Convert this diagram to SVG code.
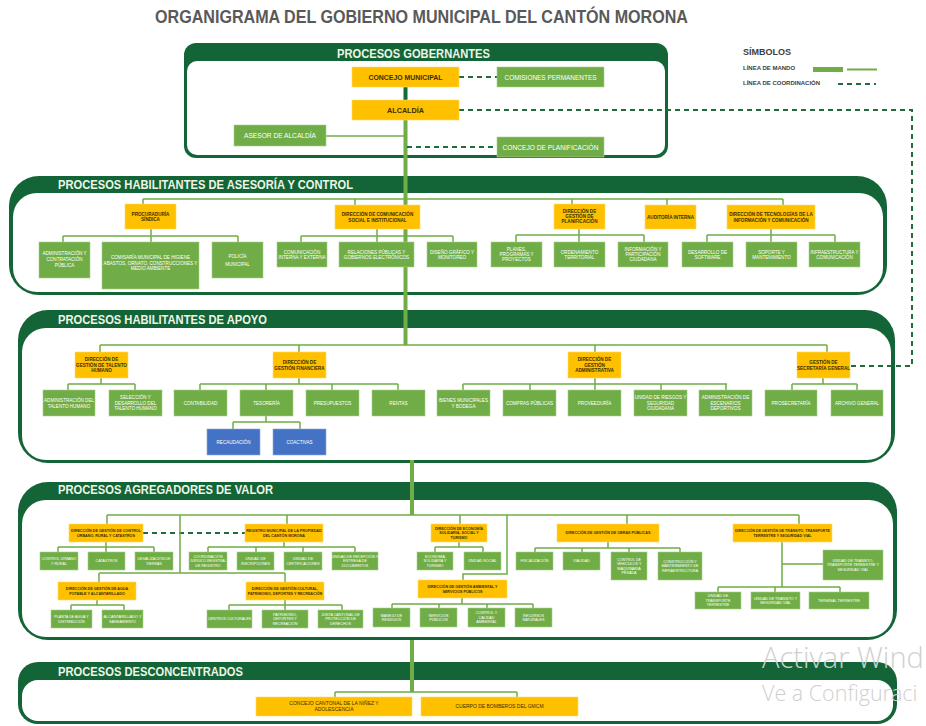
<svg xmlns="http://www.w3.org/2000/svg" width="926" height="726" viewBox="0 0 926 726">
<style>
text{font-family:"Liberation Sans",Arial,sans-serif}
.fo{fill:#136538}
.fi{fill:#fff}
.o{fill:#ffc000;stroke:#ffd966;stroke-width:.6}
.g{fill:#70ad47;stroke:#a9d18e;stroke-width:.6}
.b{fill:#4472c4;stroke:#8faadc;stroke-width:.6}
.to{font-size:4.6px;font-weight:bold;fill:#3b2f00;text-anchor:middle}
.tg{font-size:4.6px;fill:#fff;text-anchor:middle}
.s{font-size:3.7px}
.gv{font-size:7px}
.h{font-size:13px;font-weight:bold;fill:#eef5e6}
.ln{stroke:#70ad47;stroke-width:1.5;fill:none}
.tr{stroke:#70ad47;stroke-width:4;fill:none}
.ds{stroke:#1e6b3c;stroke-width:2;stroke-dasharray:5 4;fill:none}
.wm{fill:#d0d0d0;font-family:"Open Sans","Liberation Sans",sans-serif;font-weight:300}
</style>
<rect width="926" height="726" fill="#fff"/>
<text x="155" y="23" font-size="18" font-weight="bold" fill="#595959" textLength="533" lengthAdjust="spacingAndGlyphs">ORGANIGRAMA DEL GOBIERNO MUNICIPAL DEL CANTÓN MORONA</text>

<g id="frames">
<rect class="fo" x="184" y="43" width="484" height="115" rx="12"/>
<rect class="fi" x="187" y="61" width="478" height="94" rx="10"/>
<text class="h" x="337" y="58" font-size="12" textLength="153" lengthAdjust="spacingAndGlyphs">PROCESOS GOBERNANTES</text>

<rect class="fo" x="9" y="176" width="878" height="119" rx="30"/>
<rect class="fi" x="13" y="193" width="870" height="99" rx="24"/>
<text class="h" x="58" y="188.5" textLength="295" lengthAdjust="spacingAndGlyphs">PROCESOS HABILITANTES DE ASESORÍA Y CONTROL</text>

<rect class="fo" x="18" y="310" width="877" height="153" rx="30"/>
<rect class="fi" x="22" y="328" width="869" height="132" rx="24"/>
<text class="h" x="58" y="324" textLength="209" lengthAdjust="spacingAndGlyphs">PROCESOS HABILITANTES DE APOYO</text>

<rect class="fo" x="18" y="482" width="879" height="158" rx="30"/>
<rect class="fi" x="22" y="500" width="871" height="137" rx="24"/>
<text class="h" x="58" y="494" textLength="215" lengthAdjust="spacingAndGlyphs">PROCESOS AGREGADORES DE VALOR</text>

<rect class="fo" x="18" y="662" width="879" height="62" rx="20"/>
<rect class="fi" x="22" y="680" width="871" height="41" rx="16"/>
<text class="h" x="58" y="676" font-size="11" textLength="185" lengthAdjust="spacingAndGlyphs">PROCESOS DESCONCENTRADOS</text>
</g>

<g id="legend">
<text x="743" y="55" font-size="9" font-weight="bold" fill="#404040">SÍMBOLOS</text>
<text x="743" y="70" font-size="6" font-weight="bold" fill="#404040">LÍNEA DE MANDO</text>
<rect x="813" y="67" width="30" height="5" fill="#70ad47"/>
<line x1="847" y1="69.5" x2="877" y2="69.5" stroke="#70ad47" stroke-width="2"/>
<text x="743" y="85" font-size="6" font-weight="bold" fill="#404040">LÍNEA DE COORDINACIÓN</text>
<line x1="838" y1="84" x2="876" y2="84" class="ds" stroke-dasharray="4 5"/>
</g>

<g id="connectors">
<line x1="405.5" y1="87" x2="405.5" y2="100" stroke="#156b35" stroke-width="4"/>
<path class="tr" d="M405.5 120V345M412 460V515M412 640V692"/>
<path class="ln" d="M326 136H405"/>
<path class="ds" d="M459 77H497M459 110H912V366H850M407 147H497M143 533H245"/>
<path class="ln" d="M143 199H783M143 199V204M355 199V205M572 199V204M667 199V205M783 199V205"/>
<path class="ln" d="M151 229V236M63 236H238M63 236V242M151 236V242M238 236V242"/>
<path class="ln" d="M377 229V236M301 236H453M301 236V242M377 236V242M453 236V242"/>
<path class="ln" d="M579 229V235M516 235H644M516 235V242M579 235V242M644 235V242"/>
<path class="ln" d="M771 229V235M707 235H835M707 235V242M771 235V242M835 235V242"/>
<path class="ln" d="M100 345H827M100 345V352M299 345V352M595 345V352M827 345V352"/>
<path class="ln" d="M101 378V384M68 384H135M68 384V390M135 384V390"/>
<path class="ln" d="M299 378V384M200 384H398M200 384V390M266 384V390M332 384V390M398 384V390"/>
<path class="ln" d="M266 416V422M233 422H300M233 422V429M300 422V429" stroke="#4472c4"/>
<path class="ln" d="M595 378V384M463 384H727M463 384V390M530 384V390M595 384V390M661 384V390M726 384V390"/>
<path class="ln" d="M823 378V384M792 384H857M792 384V390M857 384V390"/>
<path class="ln" stroke-width="2" d="M107 515H799M107 515V524M287 515V524M460 515V524M627 515V524M799 515V524"/>
<path class="ln" d="M180 515V573M99 573H285M99 573V582M285 573V582M507 515V574H463V580"/>
<path class="ln" d="M106 542V547M58 547H154M58 547V552M106 547V552M154 547V552"/>
<path class="ln" d="M284 542V547M208 547H355M208 547V552M256 547V552M303 547V552M355 547V552"/>
<path class="ln" d="M459 542V547M435 547H483M435 547V552M483 547V552"/>
<path class="ln" d="M608 542V548M535 548H680M535 548V552M582 548V552M629 548V552M680 548V552"/>
<path class="ln" stroke-width="2" d="M782 542V587M782 564H823M718 587H840M718 587V592M775 587V592M840 587V592"/>
<path class="ln" d="M97 600V605M71 605H124M71 605V610M124 605V610"/>
<path class="ln" d="M285 600V605M229 605H342M229 605V610M285 605V610M342 605V610"/>
<path class="ln" d="M462 598V604M392 604H533M392 604V608M439 604V608M487 604V608M533 604V608"/>
<path class="ln" stroke-width="2" d="M335 692H517M335 692V697M517 692V697"/>
</g>

<!-- Gobernantes -->
<g id="concejo-municipal"><rect class="o" x="352" y="67" width="107" height="20"/><text class="to gv" x="405.5" y="79.5" textLength="74" lengthAdjust="spacingAndGlyphs">CONCEJO MUNICIPAL</text></g>
<g id="comisiones-permanentes"><rect class="g" x="497" y="67" width="107" height="20"/><text class="tg gv" x="550.5" y="79.5" textLength="92" lengthAdjust="spacingAndGlyphs">COMISIONES PERMANENTES</text></g>
<g id="alcaldia"><rect class="o" x="352" y="100" width="107" height="20"/><text class="to gv" x="405.5" y="112.5" textLength="37" lengthAdjust="spacingAndGlyphs">ALCALDÍA</text></g>
<g id="asesor-alcaldia"><rect class="g" x="234" y="125" width="92" height="21"/><text class="tg gv" x="280" y="138" textLength="72" lengthAdjust="spacingAndGlyphs">ASESOR DE ALCALDÍA</text></g>
<g id="concejo-planificacion"><rect class="g" x="497" y="137" width="107" height="20"/><text class="tg gv" x="550.5" y="149.5" textLength="96" lengthAdjust="spacingAndGlyphs">CONCEJO DE PLANIFICACIÓN</text></g>

<!-- Asesoría y control -->
<g id="procuraduria"><rect class="o" x="125" y="204" width="51" height="25"/><text class="to" x="150.5" y="215.5">PROCURADURÍA</text><text class="to" x="150.5" y="221">SÍNDICA</text></g>
<g id="dir-comunicacion"><rect class="o" x="335" y="205" width="85" height="24"/><text class="to" x="377.5" y="216">DIRECCIÓN DE COMUNICACIÓN</text><text class="to" x="377.5" y="221.5">SOCIAL E INSTITUCIONAL</text></g>
<g id="dir-planificacion"><rect class="o" x="554" y="204" width="51" height="25"/><text class="to" x="579.5" y="212.8">DIRECCIÓN DE</text><text class="to" x="579.5" y="218.1">GESTIÓN DE</text><text class="to" x="579.5" y="223.4">PLANIFICACIÓN</text></g>
<g id="auditoria"><rect class="o" x="645" y="205" width="51" height="24"/><text class="to" x="670.5" y="218.6">AUDITORÍA INTERNA</text></g>
<g id="dir-tecnologias"><rect class="o" x="727" y="205" width="88" height="24"/><text class="to" x="771" y="216">DIRECCIÓN DE TECNOLOGÍAS DE LA</text><text class="to" x="771" y="221.5">INFORMACIÓN Y COMUNICACIÓN</text></g>

<g id="adm-contratacion"><rect class="g" x="39" y="242" width="51" height="36"/><text class="tg" x="64.5" y="255"><tspan x="64.5">ADMINISTRACIÓN Y</tspan><tspan x="64.5" dy="6">CONTRATACIÓN</tspan><tspan x="64.5" dy="6">PÚBLICA</tspan></text></g>
<g id="comisaria"><rect class="g" x="102" y="242" width="97" height="47"/><text class="tg" x="150.5" y="259"><tspan x="150.5">COMISARÍA MUNICIPAL DE HIGIENE</tspan><tspan x="150.5" dy="5.7">ABASTOS, ORNATO, CONSTRUCCIONES Y</tspan><tspan x="150.5" dy="5.7">MEDIO AMBIENTE</tspan></text></g>
<g id="policia"><rect class="g" x="212" y="242" width="51" height="36"/><text class="tg" x="237.5" y="257.5">POLICÍA</text><text class="tg" x="237.5" y="265.5">MUNICIPAL</text></g>
<g id="com-interna"><rect class="g" x="277" y="242" width="50" height="25"/><text class="tg" x="302" y="253.5">COMUNICACIÓN</text><text class="tg" x="302" y="259">INTERNA Y EXTERNA</text></g>
<g id="relaciones"><rect class="g" x="339" y="242" width="75" height="25"/><text class="tg" x="376.5" y="253.5">RELACIONES PÚBLICAS Y</text><text class="tg" x="376.5" y="259">GOBIERNOS ELECTRÓNICOS</text></g>
<g id="diseno"><rect class="g" x="427" y="242" width="50" height="25"/><text class="tg" x="452" y="253.5">DISEÑO GRÁFICO Y</text><text class="tg" x="452" y="259">MONITOREO</text></g>
<g id="planes"><rect class="g" x="491" y="242" width="51" height="25"/><text class="tg" x="516.5" y="250.8">PLANES,</text><text class="tg" x="516.5" y="256.1">PROGRAMAS Y</text><text class="tg" x="516.5" y="261.4">PROYECTOS</text></g>
<g id="ordenamiento"><rect class="g" x="554" y="242" width="51" height="25"/><text class="tg" x="579.5" y="253.5">ORDENAMIENTO</text><text class="tg" x="579.5" y="259">TERRITORIAL</text></g>
<g id="informacion"><rect class="g" x="618" y="242" width="50" height="25"/><text class="tg" x="643" y="250.8">INFORMACIÓN Y</text><text class="tg" x="643" y="256.1">PARTICIPACIÓN</text><text class="tg" x="643" y="261.4">CIUDADANA</text></g>
<g id="software"><rect class="g" x="682" y="242" width="51" height="25"/><text class="tg" x="707.5" y="253.5">DESARROLLO DE</text><text class="tg" x="707.5" y="259">SOFTWARE</text></g>
<g id="soporte"><rect class="g" x="746" y="242" width="51" height="25"/><text class="tg" x="771.5" y="253.5">SOPORTE Y</text><text class="tg" x="771.5" y="259">MANTENIMIENTO</text></g>
<g id="infraestructura"><rect class="g" x="809" y="242" width="51" height="25"/><text class="tg" x="834.5" y="253.5" textLength="48" lengthAdjust="spacingAndGlyphs">INFRAESTRUCTURA Y</text><text class="tg" x="834.5" y="259">COMUNICACIÓN</text></g>

<!-- Apoyo -->
<g id="dir-talento"><rect class="o" x="75" y="352" width="53" height="26"/><text class="to" x="101.5" y="361.3">DIRECCIÓN DE</text><text class="to" x="101.5" y="366.6">GESTIÓN DE TALENTO</text><text class="to" x="101.5" y="371.9">HUMANO</text></g>
<g id="dir-financiera"><rect class="o" x="273" y="352" width="53" height="26"/><text class="to" x="299.5" y="364">DIRECCIÓN DE</text><text class="to" x="299.5" y="369.5">GESTIÓN FINANCIERA</text></g>
<g id="dir-administrativa"><rect class="o" x="568" y="352" width="53" height="26"/><text class="to" x="594.5" y="361.3">DIRECCIÓN DE</text><text class="to" x="594.5" y="366.6">GESTIÓN</text><text class="to" x="594.5" y="371.9">ADMINISTRATIVA</text></g>
<g id="secretaria"><rect class="o" x="797" y="352" width="53" height="26"/><text class="to" x="823.5" y="364">GESTIÓN DE</text><text class="to" x="823.5" y="369.5">SECRETARÍA GENERAL</text></g>

<g id="adm-talento"><rect class="g" x="43" y="390" width="52" height="26"/><text class="tg" x="69" y="402" textLength="50" lengthAdjust="spacingAndGlyphs">ADMINISTRACIÓN DEL</text><text class="tg" x="69" y="407.5">TALENTO HUMANO</text></g>
<g id="seleccion"><rect class="g" x="109" y="390" width="53" height="26"/><text class="tg" x="135.5" y="399.3">SELECCIÓN Y</text><text class="tg" x="135.5" y="404.6">DESARROLLO DEL</text><text class="tg" x="135.5" y="409.9">TALENTO HUMANO</text></g>
<g id="contabilidad"><rect class="g" x="174" y="390" width="53" height="26"/><text class="tg" x="200.5" y="404.6">CONTABILIDAD</text></g>
<g id="tesoreria"><rect class="g" x="240" y="390" width="53" height="26"/><text class="tg" x="266.5" y="404.6">TESORERÍA</text></g>
<g id="presupuestos"><rect class="g" x="306" y="390" width="53" height="26"/><text class="tg" x="332.5" y="404.6">PRESUPUESTOS</text></g>
<g id="rentas"><rect class="g" x="372" y="390" width="53" height="26"/><text class="tg" x="398.5" y="404.6">RENTAS</text></g>
<g id="recaudacion"><rect class="b" x="207" y="429" width="53" height="26"/><text class="tg" x="233.5" y="443.6">RECAUDACIÓN</text></g>
<g id="coactivas"><rect class="b" x="273" y="429" width="53" height="26"/><text class="tg" x="299.5" y="443.6">COACTIVAS</text></g>
<g id="bienes"><rect class="g" x="437" y="390" width="53" height="26"/><text class="tg" x="463.5" y="402">BIENES MUNICIPALES</text><text class="tg" x="463.5" y="407.5">Y BODEGA</text></g>
<g id="compras"><rect class="g" x="503" y="390" width="53" height="26"/><text class="tg" x="529.5" y="404.6">COMPRAS PÚBLICAS</text></g>
<g id="proveeduria"><rect class="g" x="568" y="390" width="53" height="26"/><text class="tg" x="594.5" y="404.6">PROVEEDURÍA</text></g>
<g id="riesgos"><rect class="g" x="634" y="390" width="53" height="26"/><text class="tg" x="660.5" y="399.3">UNIDAD DE RIESGOS Y</text><text class="tg" x="660.5" y="404.6">SEGURIDAD</text><text class="tg" x="660.5" y="409.9">CIUDADANA</text></g>
<g id="escenarios"><rect class="g" x="699" y="390" width="53" height="26"/><text class="tg" x="725.5" y="399.3">ADMINISTRACIÓN DE</text><text class="tg" x="725.5" y="404.6">ESCENARIOS</text><text class="tg" x="725.5" y="409.9">DEPORTIVOS</text></g>
<g id="prosecretaria"><rect class="g" x="765" y="390" width="52" height="26"/><text class="tg" x="791" y="404.6">PROSECRETARÍA</text></g>
<g id="archivo"><rect class="g" x="831" y="390" width="52" height="26"/><text class="tg" x="857" y="404.6">ARCHIVO GENERAL</text></g>

<!-- Agregadores de valor -->
<g id="dir-control-urbano"><rect class="o" x="69" y="524" width="74" height="18"/><text class="to s" x="106" y="532">DIRECCIÓN DE GESTIÓN DE CONTROL</text><text class="to s" x="106" y="536.5">URBANO, RURAL Y CATASTROS</text></g>
<g id="registro"><rect class="o" x="245" y="524" width="78" height="18"/><text class="to s" x="284" y="532">REGISTRO MUNICIPAL DE LA PROPIEDAD</text><text class="to s" x="284" y="536.5">DEL CANTÓN MORONA</text></g>
<g id="dir-economia"><rect class="o" x="431" y="524" width="56" height="18"/><text class="to s" x="459" y="529.8">DIRECCIÓN DE ECONOMÍA</text><text class="to s" x="459" y="534.2">SOLIDARIA, SOCIAL Y</text><text class="to s" x="459" y="538.6">TURISMO</text></g>
<g id="dir-obras"><rect class="o" x="557" y="524" width="102" height="18"/><text class="to s" x="608" y="534.3">DIRECCIÓN DE GESTIÓN DE OBRAS PÚBLICAS</text></g>
<g id="dir-transito"><rect class="o" x="733" y="524" width="99" height="18"/><text class="to s" x="782.5" y="532" textLength="95" lengthAdjust="spacingAndGlyphs">DIRECCIÓN DE GESTIÓN DE TRÁNSITO, TRANSPORTE</text><text class="to s" x="782.5" y="536.5">TERRESTRE Y SEGURIDAD VIAL</text></g>
<g id="dir-agua"><rect class="o" x="58" y="582" width="78" height="18"/><text class="to s" x="97" y="590">DIRECCIÓN DE GESTIÓN DE AGUA</text><text class="to s" x="97" y="594.5">POTABLE Y ALCANTARILLADO</text></g>
<g id="dir-cultural"><rect class="o" x="246" y="582" width="78" height="18"/><text class="to s" x="285" y="590">DIRECCIÓN DE GESTIÓN CULTURAL,</text><text class="to s" x="285" y="594.5">PATRIMONIO, DEPORTES Y RECREACIÓN</text></g>
<g id="dir-ambiental"><rect class="o" x="418" y="580" width="89" height="18"/><text class="to s" x="462.5" y="588">DIRECCIÓN DE GESTIÓN AMBIENTAL Y</text><text class="to s" x="462.5" y="592.5">SERVICIOS PÚBLICOS</text></g>

<g id="control-urbano"><rect class="g" x="40" y="552" width="38" height="18"/><text class="tg s" x="59" y="560">CONTROL URBANO</text><text class="tg s" x="59" y="564.5">Y RURAL</text></g>
<g id="catastros"><rect class="g" x="88" y="552" width="37" height="18"/><text class="tg s" x="106.5" y="562.3">CATASTROS</text></g>
<g id="legalizacion"><rect class="g" x="135" y="552" width="38" height="18"/><text class="tg s" x="154" y="560">LEGALIZACIÓN DE</text><text class="tg s" x="154" y="564.5">TIERRAS</text></g>
<g id="coordinacion-juridica"><rect class="g" x="189" y="552" width="38" height="18"/><text class="tg s" x="208" y="557.8">COORDINACIÓN</text><text class="tg s" x="208" y="562.2" textLength="36" lengthAdjust="spacingAndGlyphs">JURÍDICO-REGISTRAL</text><text class="tg s" x="208" y="566.6">DE REGISTRO</text></g>
<g id="inscripciones"><rect class="g" x="237" y="552" width="37" height="18"/><text class="tg s" x="255.5" y="560">UNIDAD DE</text><text class="tg s" x="255.5" y="564.5">INSCRIPCIONES</text></g>
<g id="certificaciones"><rect class="g" x="284" y="552" width="38" height="18"/><text class="tg s" x="303" y="560">UNIDAD DE</text><text class="tg s" x="303" y="564.5">CERTIFICACIONES</text></g>
<g id="recepcion"><rect class="g" x="332" y="552" width="46" height="18"/><text class="tg s" x="355" y="557.8">UNIDAD DE RECEPCIÓN Y</text><text class="tg s" x="355" y="562.2">ENTREGA DE</text><text class="tg s" x="355" y="566.6">DOCUMENTOS</text></g>
<g id="economia-solidaria"><rect class="g" x="417" y="552" width="36" height="18"/><text class="tg s" x="435" y="557.8">ECONOMÍA</text><text class="tg s" x="435" y="562.2">SOLIDARIA Y</text><text class="tg s" x="435" y="566.6">TURISMO</text></g>
<g id="unidad-social"><rect class="g" x="464" y="552" width="37" height="18"/><text class="tg s" x="482.5" y="562.3">UNIDAD SOCIAL</text></g>
<g id="fiscalizacion"><rect class="g" x="516" y="552" width="37" height="18"/><text class="tg s" x="534.5" y="562.3">FISCALIZACIÓN</text></g>
<g id="vialidad"><rect class="g" x="563" y="552" width="37" height="18"/><text class="tg s" x="581.5" y="562.3">VIALIDAD</text></g>
<g id="control-vehiculos"><rect class="g" x="611" y="552" width="36" height="28"/><text class="tg s" x="629" y="560.7">CONTROL DE</text><text class="tg s" x="629" y="565.1">VEHÍCULOS Y</text><text class="tg s" x="629" y="569.5">MAQUINARIA</text><text class="tg s" x="629" y="573.9">PESADA</text></g>
<g id="construccion"><rect class="g" x="658" y="552" width="44" height="28"/><text class="tg s" x="680" y="562.8">CONSTRUCCIÓN Y</text><text class="tg s" x="680" y="567.2">MANTENIMIENTO DE</text><text class="tg s" x="680" y="571.6">INFRAESTRUCTURA</text></g>
<g id="unidad-transito"><rect class="g" x="823" y="550" width="60" height="30"/><text class="tg s" x="853" y="561.8">UNIDAD DE TRÁNSITO,</text><text class="tg s" x="853" y="566.2">TRANSPORTE TERRESTRE Y</text><text class="tg s" x="853" y="570.6">SEGURIDAD VIAL</text></g>
<g id="transporte-terrestre"><rect class="g" x="695" y="592" width="46" height="17"/><text class="tg s" x="718" y="597.3">UNIDAD DE</text><text class="tg s" x="718" y="601.7">TRANSPORTE</text><text class="tg s" x="718" y="606.1">TERRESTRE</text></g>
<g id="transito-seguridad"><rect class="g" x="751" y="592" width="49" height="17"/><text class="tg s" x="775.5" y="599.5">UNIDAD DE TRÁNSITO Y</text><text class="tg s" x="775.5" y="604">SEGURIDAD VIAL</text></g>
<g id="terminal"><rect class="g" x="809" y="592" width="60" height="17"/><text class="tg s" x="839" y="601.8">TERMINAL TERRESTRE</text></g>
<g id="planta-agua"><rect class="g" x="51" y="610" width="41" height="18"/><text class="tg s" x="71.5" y="618">PLANTA DE AGUA Y</text><text class="tg s" x="71.5" y="622.5">DISTRIBUCIÓN</text></g>
<g id="alcantarillado"><rect class="g" x="102" y="610" width="41" height="18"/><text class="tg s" x="122.5" y="618" textLength="38" lengthAdjust="spacingAndGlyphs">ALCANTARILLADO Y</text><text class="tg s" x="122.5" y="622.5">SANEAMIENTO</text></g>
<g id="centros-culturales"><rect class="g" x="207" y="610" width="45" height="18"/><text class="tg s" x="229.5" y="620.3">CENTROS CULTURALES</text></g>
<g id="patrimonio"><rect class="g" x="262" y="610" width="46" height="18"/><text class="tg s" x="285" y="615.8">PATRIMONIO,</text><text class="tg s" x="285" y="620.2">DEPORTES Y</text><text class="tg s" x="285" y="624.6">RECREACIÓN</text></g>
<g id="junta-cantonal"><rect class="g" x="318" y="610" width="45" height="18"/><text class="tg s" x="340.5" y="615.8">JUNTA CANTONAL DE</text><text class="tg s" x="340.5" y="620.2">PROTECCIÓN DE</text><text class="tg s" x="340.5" y="624.6">DERECHOS</text></g>
<g id="residuos"><rect class="g" x="373" y="608" width="37" height="19"/><text class="tg s" x="391.5" y="616.5">MANEJO DE</text><text class="tg s" x="391.5" y="621">RESIDUOS</text></g>
<g id="servicios-publicos"><rect class="g" x="420" y="608" width="37" height="19"/><text class="tg s" x="438.5" y="616.5">SERVICIOS</text><text class="tg s" x="438.5" y="621">PÚBLICOS</text></g>
<g id="calidad-ambiental"><rect class="g" x="468" y="608" width="37" height="19"/><text class="tg s" x="486.5" y="614.3">CONTROL Y</text><text class="tg s" x="486.5" y="618.7">CALIDAD</text><text class="tg s" x="486.5" y="623.1">AMBIENTAL</text></g>
<g id="recursos-naturales"><rect class="g" x="515" y="608" width="37" height="19"/><text class="tg s" x="533.5" y="616.5">RECURSOS</text><text class="tg s" x="533.5" y="621">NATURALES</text></g>

<!-- Desconcentrados -->
<g id="concejo-ninez"><rect class="o" x="256" y="697" width="156" height="19"/><text class="to" x="334" y="705" style="font-size:5px;font-weight:normal">CONCEJO CANTONAL DE LA NIÑEZ Y</text><text class="to" x="334" y="711" style="font-size:5px;font-weight:normal">ADOLESCENCIA</text></g>
<g id="bomberos"><rect class="o" x="421" y="697" width="157" height="19"/><text class="to" x="499.5" y="708" style="font-size:5px;font-weight:normal">CUERPO DE BOMBEROS DEL GMCM</text></g>

<g id="watermark">
<text class="wm" x="762" y="668" font-size="29">Activar Wind</text>
<text class="wm" x="762" y="701" font-size="21.5">Ve a Configuraci</text>
</g>
</svg>
